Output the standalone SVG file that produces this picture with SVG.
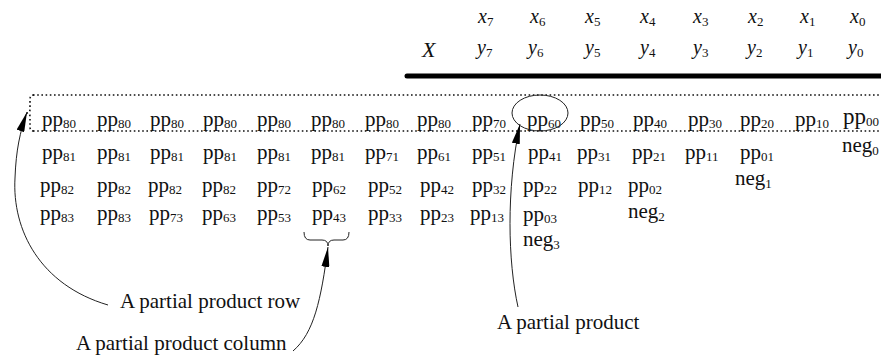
<svg xmlns="http://www.w3.org/2000/svg" width="881" height="360" viewBox="0 0 881 360" font-family="'Liberation Serif', 'DejaVu Serif', serif">
<defs>
<style>
text{font-family:'Liberation Serif','DejaVu Serif',serif;fill:#111}
.pp{font-size:21px}
.s{font-size:13px}
.h{font-size:20px;font-style:italic}
.hs{font-size:13px;font-style:normal}
.lbl{font-size:21px}
.dot{fill:none;stroke:#111;stroke-width:1.6;stroke-dasharray:1.6 2.6}
.con{fill:none;stroke:#222;stroke-width:1}
</style>
<marker id="ah" viewBox="0 0 20 8" refX="20" refY="4" markerWidth="20" markerHeight="8" markerUnits="userSpaceOnUse" orient="auto">
<path d="M0,0 L20,4 L0,8 Z" fill="#000"/>
</marker>
</defs>
<rect width="881" height="360" fill="#fff"/>

<g id="header">
<text class="h" x="478" y="23">x<tspan class="hs" dy="3">7</tspan></text>
<text class="h" x="530" y="23">x<tspan class="hs" dy="3">6</tspan></text>
<text class="h" x="585" y="23">x<tspan class="hs" dy="3">5</tspan></text>
<text class="h" x="640" y="23">x<tspan class="hs" dy="3">4</tspan></text>
<text class="h" x="693" y="23">x<tspan class="hs" dy="3">3</tspan></text>
<text class="h" x="748" y="23">x<tspan class="hs" dy="3">2</tspan></text>
<text class="h" x="800" y="23">x<tspan class="hs" dy="3">1</tspan></text>
<text class="h" x="850" y="23">x<tspan class="hs" dy="3">0</tspan></text>
<text class="h" x="422" y="57" style="font-size:22px">X</text>
<text class="h" x="477" y="54">y<tspan class="hs" dy="3">7</tspan></text>
<text class="h" x="528" y="54">y<tspan class="hs" dy="3">6</tspan></text>
<text class="h" x="585" y="54">y<tspan class="hs" dy="3">5</tspan></text>
<text class="h" x="640" y="54">y<tspan class="hs" dy="3">4</tspan></text>
<text class="h" x="693" y="54">y<tspan class="hs" dy="3">3</tspan></text>
<text class="h" x="747" y="54">y<tspan class="hs" dy="3">2</tspan></text>
<text class="h" x="798" y="54">y<tspan class="hs" dy="3">1</tspan></text>
<text class="h" x="848" y="54">y<tspan class="hs" dy="3">0</tspan></text>
<line x1="407" y1="76" x2="881" y2="76" stroke="#000" stroke-width="5" stroke-linecap="round"/>
</g>

<g id="row-box">
<line class="dot" x1="33" y1="95" x2="881" y2="95"/>
<line class="dot" x1="33" y1="131" x2="881" y2="131"/>
<path class="dot" d="M34,95 Q30,95 30,99 L30,109 Q30,113 27,113 Q30,113 30,117 L30,127 Q30,131 34,131"/>
</g>

<g id="row0" class="pp">
<text x="42" y="126">pp<tspan class="s" dy="2">80</tspan></text>
<text x="97" y="126">pp<tspan class="s" dy="2">80</tspan></text>
<text x="150" y="126">pp<tspan class="s" dy="2">80</tspan></text>
<text x="203" y="126">pp<tspan class="s" dy="2">80</tspan></text>
<text x="257" y="126">pp<tspan class="s" dy="2">80</tspan></text>
<text x="311" y="126">pp<tspan class="s" dy="2">80</tspan></text>
<text x="365" y="126">pp<tspan class="s" dy="2">80</tspan></text>
<text x="417" y="126">pp<tspan class="s" dy="2">80</tspan></text>
<text x="472" y="126">pp<tspan class="s" dy="2">70</tspan></text>
<text x="527" y="126">pp<tspan class="s" dy="2">60</tspan></text>
<text x="580" y="126">pp<tspan class="s" dy="2">50</tspan></text>
<text x="633" y="126">pp<tspan class="s" dy="2">40</tspan></text>
<text x="688" y="126">pp<tspan class="s" dy="2">30</tspan></text>
<text x="740" y="126">pp<tspan class="s" dy="2">20</tspan></text>
<text x="795" y="126">pp<tspan class="s" dy="2">10</tspan></text>
<text x="843" y="124" style="font-size:23px">pp<tspan class="s" dy="2">00</tspan></text>
</g>

<g id="row1" class="pp">
<text x="42" y="159">pp<tspan class="s" dy="2">81</tspan></text>
<text x="97" y="159">pp<tspan class="s" dy="2">81</tspan></text>
<text x="150" y="159">pp<tspan class="s" dy="2">81</tspan></text>
<text x="203" y="159">pp<tspan class="s" dy="2">81</tspan></text>
<text x="257" y="159">pp<tspan class="s" dy="2">81</tspan></text>
<text x="311" y="159">pp<tspan class="s" dy="2">81</tspan></text>
<text x="365" y="159">pp<tspan class="s" dy="2">71</tspan></text>
<text x="417" y="159">pp<tspan class="s" dy="2">61</tspan></text>
<text x="472" y="159">pp<tspan class="s" dy="2">51</tspan></text>
<text x="528" y="159">pp<tspan class="s" dy="2">41</tspan></text>
<text x="577" y="159">pp<tspan class="s" dy="2">31</tspan></text>
<text x="632" y="159">pp<tspan class="s" dy="2">21</tspan></text>
<text x="685" y="159">pp<tspan class="s" dy="2">11</tspan></text>
<text x="740" y="159">pp<tspan class="s" dy="2">01</tspan></text>
<text x="842" y="152">neg<tspan class="s" dy="3">0</tspan></text>
</g>

<g id="row2" class="pp">
<text x="40" y="192">pp<tspan class="s" dy="2">82</tspan></text>
<text x="97" y="192">pp<tspan class="s" dy="2">82</tspan></text>
<text x="148" y="192">pp<tspan class="s" dy="2">82</tspan></text>
<text x="202" y="192">pp<tspan class="s" dy="2">82</tspan></text>
<text x="257" y="192">pp<tspan class="s" dy="2">72</tspan></text>
<text x="312" y="192">pp<tspan class="s" dy="2">62</tspan></text>
<text x="368" y="192">pp<tspan class="s" dy="2">52</tspan></text>
<text x="420" y="192">pp<tspan class="s" dy="2">42</tspan></text>
<text x="472" y="192">pp<tspan class="s" dy="2">32</tspan></text>
<text x="523" y="192">pp<tspan class="s" dy="2">22</tspan></text>
<text x="578" y="192">pp<tspan class="s" dy="2">12</tspan></text>
<text x="628" y="192">pp<tspan class="s" dy="2">02</tspan></text>
<text x="735" y="185">neg<tspan class="s" dy="3">1</tspan></text>
</g>

<g id="row3" class="pp">
<text x="40" y="220">pp<tspan class="s" dy="2">83</tspan></text>
<text x="97" y="220">pp<tspan class="s" dy="2">83</tspan></text>
<text x="149" y="220">pp<tspan class="s" dy="2">73</tspan></text>
<text x="202" y="220">pp<tspan class="s" dy="2">63</tspan></text>
<text x="257" y="220">pp<tspan class="s" dy="2">53</tspan></text>
<text x="312" y="220">pp<tspan class="s" dy="2">43</tspan></text>
<text x="368" y="220">pp<tspan class="s" dy="2">33</tspan></text>
<text x="420" y="220">pp<tspan class="s" dy="2">23</tspan></text>
<text x="470" y="220">pp<tspan class="s" dy="2">13</tspan></text>
<text x="523" y="221">pp<tspan class="s" dy="2">03</tspan></text>
<text x="628" y="218">neg<tspan class="s" dy="3">2</tspan></text>
<text x="523" y="246">neg<tspan class="s" dy="3">3</tspan></text>
</g>

<g id="labels" class="lbl">
<text x="120" y="308">A partial product row</text>
<text x="76" y="350">A partial product column</text>
<text x="497" y="329">A partial product</text>
</g>

<g id="connectors">
<ellipse class="con" cx="540" cy="113" rx="28" ry="18"/>
<path class="con" d="M304,232 Q304,240 310,240 L322,240 Q328,240 328,246 Q328,240 334,240 L343,240 Q349,240 349,232"/>
<path class="con" d="M108,305 C40,285 12,230 15,178 C16,150 20,132 27,112" marker-end="url(#ah)"/>
<path class="con" d="M293,351 C314,333 321,300 328,247" marker-end="url(#ah)"/>
<path class="con" d="M518,307 C508,262 506,190 520,124" marker-end="url(#ah)"/>
</g>
</svg>
